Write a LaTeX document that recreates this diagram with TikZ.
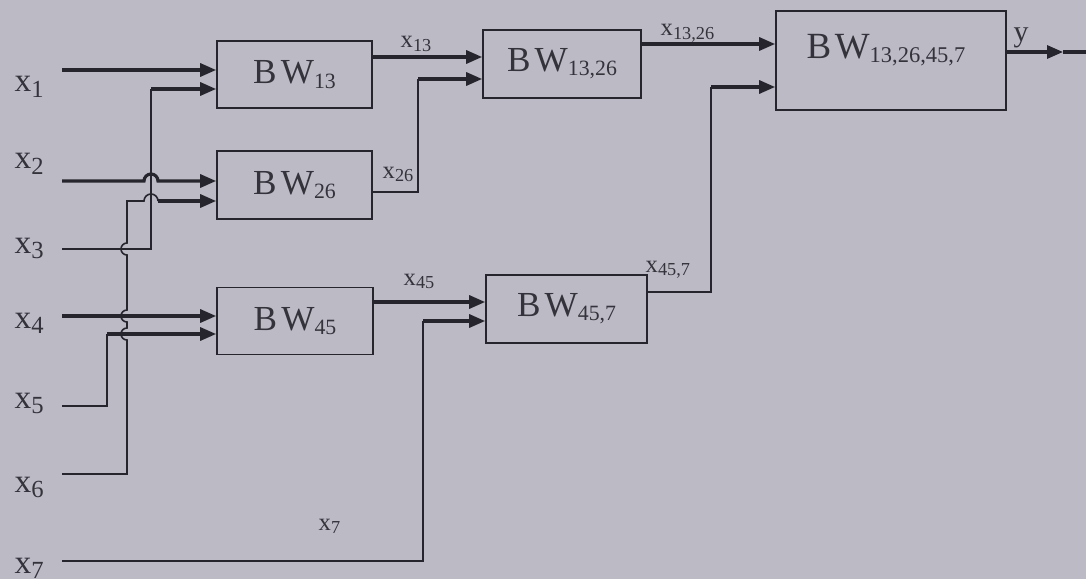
\documentclass[tikz,border=0pt]{standalone}
\usepackage{fontspec}
\setmainfont{Liberation Serif}
\usetikzlibrary{arrows.meta}
\definecolor{bgc}{RGB}{188,186,197}
\definecolor{ink}{RGB}{38,36,44}
\definecolor{txt}{RGB}{52,50,58}
\newcommand\inx[1]{{\fontsize{9.5}{10}\selectfont x\raisebox{-1.5pt}{\fontsize{7}{8}\selectfont #1}}}
\newcommand\smx[1]{{\fontsize{7}{8}\selectfont x\raisebox{-1pt}{\fontsize{5.2}{6}\selectfont #1}}}
\newcommand\bwl[1]{{\fontsize{10}{11}\selectfont B\kern1.2pt W\raisebox{-1.2pt}{\fontsize{6.2}{7}\selectfont #1}}}
\newcommand\bwbig[1]{{\fontsize{10.5}{11}\selectfont B\kern1pt W\raisebox{-1.3pt}{\fontsize{6.4}{7}\selectfont #1}}}
\begin{document}
\begin{tikzpicture}[x=0.01cm,y=-0.01cm,
  box/.style={draw=ink,line width=0.45pt,inner sep=0pt,text=txt},
  thk/.style={draw=ink,line width=0.9pt},
  thn/.style={draw=ink,line width=0.45pt},
  arr/.style={-{Triangle[length=1.6mm,width=1.3mm]}},
  lab/.style={inner sep=0pt,anchor=base west,text=txt}]
\useasboundingbox (0,0) rectangle (1086,579);
\fill[bgc] (0,0) rectangle (1086,579);
% boxes
\node[box,minimum width=1.55cm,minimum height=0.67cm] (b13) at (294.5,74.5) {\bwl{13}};
\node[box,minimum width=1.55cm,minimum height=0.68cm] (b26) at (294.5,185) {\bwl{26}};
\node[box,minimum width=1.56cm,minimum height=0.67cm] (b45) at (295,321) {\bwl{45}};
\node[box,minimum width=1.58cm,minimum height=0.68cm] (b1326) at (562,64) {\bwl{13,26}};
\node[box,minimum width=1.61cm,minimum height=0.68cm] (b457) at (566.5,309) {\bwl{45,7}};
\node[box,minimum width=2.30cm,minimum height=0.99cm] (bf) at (891,60.5) {};
\node[text=txt,inner sep=0pt] (bft) at (886,50) {\bwbig{13,26,45,7}};
% input labels
\node[lab] (l1) at (14,92) {\inx{1}};
\node[lab] (l2) at (14,169) {\inx{2}};
\node[lab] (l3) at (14,253) {\inx{3}};
\node[lab] (l4) at (14,328) {\inx{4}};
\node[lab] (l5) at (14,408) {\inx{5}};
\node[lab] (l6) at (14,492) {\inx{6}};
\node[lab] (l7) at (14,573) {\inx{7}};
% signal labels
\node[lab] (s13) at (400,48) {\smx{13}};
\node[lab] (s26) at (382,178) {\smx{26}};
\node[lab] (s1326) at (660,36) {\smx{13,26}};
\node[lab] (s45) at (403,285) {\smx{45}};
\node[lab] (s457) at (645,272) {\smx{45,7}};
\node[lab] (s7) at (318,530) {\smx{7}};
\node[lab] (sy) at (1013,42) {\fontsize{8.5}{9}\selectfont y};
% input coordinates
\coordinate (i1) at (62,70);
\coordinate (i2) at (62,181);
\coordinate (i3) at (62,249);
\coordinate (i4) at (62,316);
\coordinate (i5) at (62,406);
\coordinate (i6) at (62,474);
\coordinate (i7) at (62,561);
% x1
\draw[thk,arr] (i1) -- (i1 -| b13.west);
% x3
\coordinate (v3) at (151,89);
\draw[thn] (i3) -| (v3);
\draw[thk,arr] (v3) -- (v3 -| b13.west);
% x2 (hop over x3 riser)
\draw[thk,arr] (i2) -- (144,181) arc[start angle=180,end angle=360,radius=7] -- (i2 -| b26.west);
% x6 (hops)
\coordinate (v6) at (127,201);
\draw[thn] (i6) -- (127,474) -- (127,340) arc[start angle=90,end angle=270,radius=6]
  -- (127,322) arc[start angle=90,end angle=270,radius=6]
  -- (127,255) arc[start angle=90,end angle=270,radius=6]
  -- (v6) -- (144,201) arc[start angle=180,end angle=360,radius=7] -- (158,201);
\draw[thk,arr] (158,201) -- (v6 -| b26.west);
% x4
\draw[thk,arr] (i4) -- (i4 -| b45.west);
% x5
\coordinate (v5) at (107,334);
\draw[thn] (i5) -| (v5);
\draw[thk,arr] (v5) -- (v5 -| b45.west);
% x7
\coordinate (v7) at (423,321);
\draw[thn] (i7) -| (v7);
\draw[thk,arr] (v7) -- (v7 -| b457.west);
% intermediate outputs
\draw[thk,arr] (b13.east |- 0,57) -- (b1326.west |- 0,57);
\coordinate (h26) at (418,79);
\draw[thn] (b26.east |- 0,192) -| (h26);
\draw[thk,arr] (h26) -- (h26 -| b1326.west);
\draw[thk,arr] (b45.east |- 0,302) -- (b457.west |- 0,302);
\draw[thk,arr] (b1326.east |- 0,44) -- (bf.west |- 0,44);
\coordinate (h457) at (711,87);
\draw[thn] (b457.east |- 0,292) -| (h457);
\draw[thk,arr] (h457) -- (h457 -| bf.west);
% output y
\coordinate (ytip) at (1063,52);
\coordinate (yend) at (1086,52);
\draw[thk,arr] (bf.east |- ytip) -- (ytip);
\draw[thk] (ytip) -- (yend);
\end{tikzpicture}
\end{document}
